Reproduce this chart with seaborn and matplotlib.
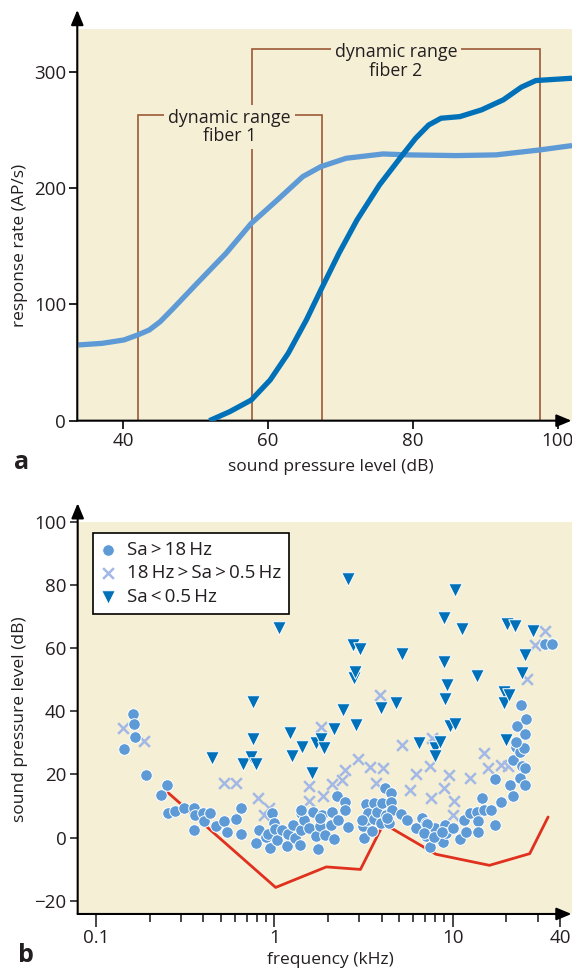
import matplotlib
matplotlib.use("Agg")
import matplotlib.pyplot as plt
import seaborn as sns
from matplotlib.ticker import FixedLocator, NullFormatter

sns.set_style("ticks")
plt.rcParams["font.family"] = ["Open Sans", "DejaVu Sans"]

# ---------------- panel a: rate-level functions of two fibers ----------------
fiber1_db = [33.8, 37.1, 40.1, 42.0, 43.6, 45.1, 46.7, 50.2, 54.2, 57.7, 61.3,
             64.8, 67.3, 70.8, 75.9, 79.4, 86.0, 91.5, 97.6, 102.0]
fiber1_rate = [65.1, 66.5, 69.4, 73.7, 78.0, 85.1, 95.2, 118.1, 143.9, 169.7, 189.8,
               209.8, 218.4, 225.6, 229.3, 228.5, 227.9, 228.5, 232.8, 236.5]

fiber2_db = [51.9, 54.7, 57.7, 60.3, 62.8, 65.3, 67.3, 69.8, 72.3, 75.4, 78.4,
             80.4, 82.2, 83.9, 86.5, 89.5, 92.5, 95.0, 97.0, 102.0]
fiber2_rate = [0.0, 7.7, 17.8, 35.0, 58.0, 86.6, 112.4, 143.9, 172.6, 202.7, 227.0,
               242.8, 254.2, 260.0, 261.4, 267.2, 275.8, 286.7, 292.4, 294.4]

range_fiber1 = (42.0, 67.4)
range_fiber2 = (57.8, 97.6)
range_top = (263.0, 319.3)
range_labels = ["dynamic range\nfiber 1", "dynamic range\nfiber 2"]

# ---------------- panel b: thresholds by spontaneous rate class ----------------
circ_khz = [0.144, 0.161, 0.164, 0.166, 0.190, 0.231, 0.251, 0.254, 0.277, 0.312,
            0.355, 0.360, 0.355, 0.396, 0.403, 0.435, 0.472, 0.524, 0.543, 0.606,
            0.648, 0.648, 0.794, 0.821, 0.903, 0.916, 0.947, 0.970, 0.997, 1.007,
            1.031, 1.107, 1.172, 1.200, 1.276, 1.307, 1.384, 1.404, 1.417, 1.458,
            1.558, 1.657, 1.713, 1.754, 1.797, 1.840, 1.929, 2.071, 2.101, 2.172,
            2.235, 2.277, 2.480, 2.503, 2.601, 3.190, 3.145, 3.251, 3.297, 3.344,
            3.507, 3.625, 3.625, 3.747, 3.986, 4.024, 4.180, 4.240, 4.383, 4.488,
            4.531, 4.596, 5.101, 5.555, 6.196, 6.716, 7.043, 7.043, 7.455, 7.670,
            7.930, 8.315, 8.801, 9.012, 9.142, 10.05, 11.05, 11.59, 11.86, 12.44,
            13.68, 13.88, 13.88, 14.69, 14.90, 16.31, 17.18, 17.35, 18.63, 20.97,
            21.78, 21.78, 22.73, 23.06, 23.95, 23.95, 24.17, 24.40, 25.35, 25.59,
            25.59, 25.83, 24.99, 32.90, 36.17, 1.417, 1.797, 3.10, 4.27, 7.20,
            6.90, 7.86, 8.75, 22.70]
circ_db = [28.0, 39.0, 35.9, 31.8, 19.7, 13.6, 16.7, 7.7, 8.5, 9.3,
           9.3, 7.2, 2.5, 7.7, 5.1, 7.9, 3.5, 5.1, 1.6, 5.8,
           9.4, 1.1, -1.6, 2.4, 0.3, 1.2, -3.2, 7.7, 4.5, 2.7,
           -0.7, 2.4, -2.6, 1.2, 4.0, -0.2, -2.5, 7.9, 2.4, 5.6,
           3.0, 8.1, 0.6, -3.7, 3.5, 7.2, 0.8, 4.0, 8.0, -0.4,
           13.2, 5.6, 11.4, 8.8, 3.3, 0.0, 3.5, 10.7, 5.6, 7.7,
           2.1, 10.9, 5.8, 8.2, 4.5, 10.9, 15.6, 7.2, 4.7, 14.0,
           11.1, 8.8, 7.4, 5.6, 3.0, 6.1, 4.5, 0.5, -3.1, 1.4,
           3.0, -0.2, -1.3, 4.0, 1.4, 3.0, -0.5, 5.6, 1.9, 7.9,
           8.2, 5.1, 1.9, 12.4, 8.8, 8.8, 4.0, 18.6, 11.1, 16.7,
           13.0, 24.4, 28.8, 35.3, 27.2, 18.8, 41.9, 22.8, 32.8, 16.7,
           21.9, 37.4, 28.2, 61.2, 61.2, 8.8, 6.1, 5.6, 6.1, 4.3,
           1.4, 0.3, 1.9, 30.4]

cross_khz = [0.142, 0.185, 0.524, 0.612, 0.806, 0.874, 0.929, 1.566, 1.566, 1.822,
             1.866, 2.101, 2.399, 2.503, 2.928, 3.457, 3.712, 3.930, 4.045, 5.224,
             5.771, 6.256, 7.563, 7.491, 7.670, 8.927, 9.585, 10.19, 10.05, 12.44,
             14.90, 15.77, 18.63, 20.50, 25.96, 28.95, 32.90]
cross_db = [34.6, 30.7, 17.2, 17.2, 12.4, 7.2, 9.3, 11.7, 16.4, 35.1,
            13.3, 17.0, 18.2, 21.4, 24.8, 22.3, 17.2, 45.1, 21.9, 29.3,
            15.1, 20.1, 12.4, 22.5, 31.4, 15.6, 19.8, 11.7, 7.2, 18.8,
            26.7, 21.9, 23.0, 22.7, 50.1, 60.8, 65.5]

tri_khz = [0.446, 0.670, 0.740, 0.758, 0.758, 0.794, 1.066, 1.217, 1.259, 1.424,
           1.619, 1.713, 1.822, 1.911, 2.172, 2.423, 2.601, 2.753, 2.793, 2.833,
           2.860, 3.027, 3.986, 4.818, 5.224, 6.496, 7.930, 8.006, 8.514, 8.927,
           8.927, 9.055, 9.273, 9.723, 10.29, 10.29, 11.32, 13.68, 19.34, 19.53,
           19.81, 20.19, 20.77, 22.51, 24.40, 25.35, 28.28]
tri_db = [25.1, 23.3, 25.4, 43.0, 31.1, 23.3, 66.2, 33.0, 25.8, 28.8,
          20.4, 29.9, 31.1, 28.3, 34.3, 40.4, 81.9, 61.0, 50.4, 52.5,
          35.7, 59.7, 41.1, 42.7, 58.0, 29.9, 28.3, 25.9, 30.4, 69.6,
          55.5, 43.8, 48.3, 35.3, 35.9, 78.4, 65.9, 51.2, 46.2, 42.7,
          30.9, 67.5, 45.1, 67.0, 52.2, 57.8, 65.5]

audiogram_khz = [0.251, 1.017, 1.957, 3.04, 4.10, 8.07, 16.08, 27.05, 34.3]
audiogram_db = [14.4, -15.8, -9.3, -10.1, 4.4, -5.3, -8.8, -5.1, 6.5]

class_labels = ["Sa\u2009>\u200918\u2009Hz",
                "18\u2009Hz\u2009>\u2009Sa\u2009>\u20090.5\u2009Hz",
                "Sa\u2009<\u20090.5\u2009Hz"]

BG = "#F5EFD5"
C_LIGHT = "#5E9BD6"
C_CROSS = "#A3B8E6"
C_DARK = "#0071B9"
C_BRACKET = "#9C5A36"
C_RED = "#E0301E"
C_TEXT = "#231F20"
FS_TICK = 13.5
FS_LABEL = 12.5
FS_NOTE = 12.8

fig = plt.figure(figsize=(5.72, 9.72), dpi=100)
ax_a = fig.add_axes([0.1351, 0.5672, 0.8649, 0.4027])
ax_b = fig.add_axes([0.1358, 0.0597, 0.8642, 0.4036])


def arrow_axes(ax, top_extra):
    """Replace the spines by two arrows starting at the origin corner."""
    for s in ax.spines.values():
        s.set_visible(False)
    kw = dict(xycoords="axes fraction", textcoords="axes fraction",
              annotation_clip=False,
              arrowprops=dict(arrowstyle="-|>,head_length=0.6,head_width=0.25",
                              mutation_scale=15, lw=1.5, color="black",
                              shrinkA=0, shrinkB=0))
    ax.annotate("", xy=(0, 1 + top_extra), xytext=(0, 0), **kw)
    ax.annotate("", xy=(0.999, 0), xytext=(0, 0), **kw)


# ---- panel a ----
ax = ax_a
ax.set_facecolor(BG)
for (lo, hi), top, lab in zip([range_fiber1, range_fiber2], range_top, range_labels):
    ax.plot([lo, lo, hi, hi], [0, top, top, 0], color=C_BRACKET, lw=1.2,
            zorder=1, solid_joinstyle="miter")
    ax.text((lo + hi) / 2, top - 10.5, lab, ha="center", va="center",
            fontsize=FS_NOTE, color=C_TEXT, linespacing=1.05, zorder=2,
            bbox=dict(facecolor=BG, edgecolor="none", pad=3))

sns.lineplot(x=fiber1_db, y=fiber1_rate, color=C_LIGHT, lw=3.8, ax=ax,
             zorder=3, solid_capstyle="butt")
sns.lineplot(x=fiber2_db, y=fiber2_rate, color=C_DARK, lw=3.8, ax=ax,
             zorder=4, solid_capstyle="butt")
ax.set_xlim(33.65, 102)
ax.set_ylim(0, 336.5)
ax.set_xticks([40, 60, 80, 100])
ax.set_yticks([0, 100, 200, 300])
ax.tick_params(direction="out", length=6, width=1.2, labelsize=FS_TICK, pad=2,
               color="black", labelcolor=C_TEXT)
ax.set_xlabel("sound pressure level (dB)", fontsize=FS_LABEL, color=C_TEXT)
ax.set_ylabel("response rate (AP/s)", fontsize=FS_LABEL, color=C_TEXT)
ax.xaxis.set_label_coords(0.5787, 0.5199, transform=fig.transFigure)
ax.yaxis.set_label_coords(0.035, 0.7471, transform=fig.transFigure)
ax.xaxis.label.set_va("center")
ax.yaxis.label.set_va("center")
arrow_axes(ax, 0.0493)
fig.text(0.0385, 0.5237, "a", fontsize=18, fontweight="bold", ha="center",
         va="center", color=C_TEXT)

# ---- panel b ----
ax = ax_b
ax.set_facecolor(BG)
ax.set_xscale("log")
sns.lineplot(x=audiogram_khz, y=audiogram_db, color=C_RED, lw=2.0, ax=ax,
             zorder=2, sort=False)
sns.scatterplot(x=cross_khz, y=cross_db, marker="x", s=60, color=C_CROSS,
                linewidth=1.8, ax=ax, zorder=3, label=class_labels[1])
sns.scatterplot(x=circ_khz, y=circ_db, marker="o", s=70, color=C_LIGHT,
                edgecolor="white", linewidth=0.7, ax=ax, zorder=4, label=class_labels[0])
sns.scatterplot(x=tri_khz, y=tri_db, marker="v", s=95, color=C_DARK,
                edgecolor="white", linewidth=0.7, ax=ax, zorder=5, label=class_labels[2])
ax.set_xlim(0.0789, 46.7)
ax.set_ylim(-24.2, 100)
ax.xaxis.set_major_locator(FixedLocator([0.1, 1, 10, 40]))
ax.set_xticklabels(["0.1", "1", "10", "40"])
ax.xaxis.set_minor_locator(FixedLocator([0.2, 0.3, 0.4, 0.5, 0.6, 0.7, 0.8, 0.9,
                                         2, 3, 4, 5, 6, 7, 8, 9, 20, 30]))
ax.xaxis.set_minor_formatter(NullFormatter())
ax.set_yticks([-20, 0, 20, 40, 60, 80, 100])
ax.set_yticklabels(["\u221220", "0", "20", "40", "60", "80", "100"])
ax.tick_params(which="major", direction="out", length=6, width=1.2,
               labelsize=FS_TICK, pad=2, labelcolor=C_TEXT)
ax.tick_params(axis="x", which="major", length=9)
ax.tick_params(axis="x", which="minor", direction="out", length=6, width=1.2)
ax.set_xlabel("frequency (kHz)", fontsize=FS_LABEL, color=C_TEXT)
ax.set_ylabel("sound pressure level (dB)", fontsize=FS_LABEL, color=C_TEXT)
ax.xaxis.set_label_coords(0.5782, 0.0123, transform=fig.transFigure)
ax.yaxis.set_label_coords(0.035, 0.2603, transform=fig.transFigure)
ax.xaxis.label.set_va("center")
ax.yaxis.label.set_va("center")

handles, labels = ax.get_legend_handles_labels()
order = [labels.index(l) for l in class_labels]
leg = ax.legend([handles[i] for i in order], [labels[i] for i in order],
                loc="upper left", bbox_to_anchor=(0.0303, 0.9704), borderaxespad=0,
                fontsize=FS_TICK, frameon=True, fancybox=False, framealpha=1,
                edgecolor="black", handlelength=0.8, handletextpad=0.6,
                borderpad=0.42, labelspacing=0.28)
leg.get_frame().set_linewidth(1.2)
for t in leg.get_texts():
    t.set_color(C_TEXT)
leg.set_zorder(10)
arrow_axes(ax, 0.047)
fig.text(0.0446, 0.0165, "b", fontsize=18, fontweight="bold", ha="center",
         va="center", color=C_TEXT)

fig.savefig("out.png", dpi=100, facecolor="white")
